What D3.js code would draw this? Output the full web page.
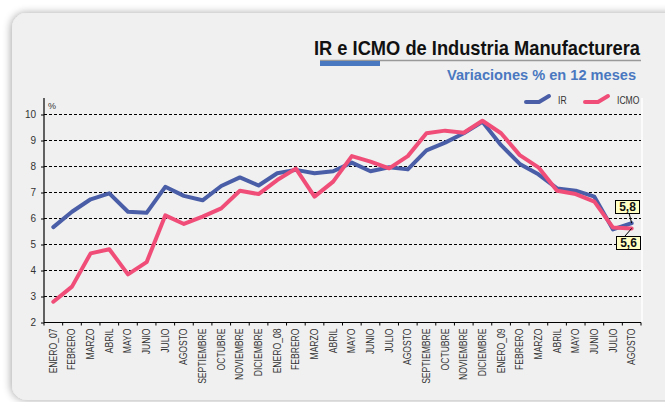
<!DOCTYPE html>
<html lang="es">
<head>
    <meta charset="utf-8">
    <title>IR e ICMO de Industria Manufacturera</title>
    <script src="https://cdnjs.cloudflare.com/ajax/libs/d3/7.8.5/d3.min.js"></script>
    <style>
        body { margin: 0; background: #ffffff; }
        svg { display: block; font-family: "Liberation Sans Narrow", "Arial Narrow", "Liberation Sans", sans-serif; }
        .grid line { stroke: #000; stroke-width: 1; stroke-dasharray: 3,2; }
        .ytick text { font-size: 10px; fill: #333; }
        .xtick text { font-size: 10px; fill: #333; }
        path.line { fill: none; stroke-width: 4; stroke-linejoin: round; stroke-linecap: round; }
    </style>
</head>
<body>
<div id="chart"></div>
<script>
    // months Jan 2007 .. Aug 2009
    var categories = ["ENERO_07","FEBRERO","MARZO","ABRIL","MAYO","JUNIO","JULIO","AGOSTO","SEPTIEMBRE","OCTUBRE","NOVIEMBRE","DICIEMBRE",
                      "ENERO_08","FEBRERO","MARZO","ABRIL","MAYO","JUNIO","JULIO","AGOSTO","SEPTIEMBRE","OCTUBRE","NOVIEMBRE","DICIEMBRE",
                      "ENERO_09","FEBRERO","MARZO","ABRIL","MAYO","JUNIO","JULIO","AGOSTO"];
    var irValues   = [5.65,6.24,6.72,6.95,6.24,6.2,7.2,6.85,6.68,7.23,7.56,7.25,
                      7.72,7.85,7.72,7.8,8.13,7.8,7.95,7.87,8.6,8.9,9.26,9.7,
                      8.8,8.08,7.68,7.14,7.05,6.82,5.56,5.8];
    var icmoValues = [2.78,3.36,4.64,4.8,3.83,4.3,6.1,5.77,6.05,6.37,7.05,6.92,
                      7.46,7.9,6.82,7.4,8.38,8.17,7.91,8.38,9.26,9.36,9.28,9.74,
                      9.26,8.42,7.95,7.05,6.92,6.63,5.63,5.6];
    var yTicks = [2,3,4,5,6,7,8,9,10];
    var seriesNames = ["IR","ICMO"];
    var seriesColors = ["#4a5ea8","#f04e78"];
    var lastLabels = ["5,8","5,6"];

    var W = 665, H = 402;
    var svg = d3.select("#chart").append("svg").attr("width", W).attr("height", H);

    // card with soft shadow
    var defs = svg.append("defs");
    var f = defs.append("filter").attr("id","shadow").attr("x","-10%").attr("y","-10%").attr("width","130%").attr("height","130%");
    f.append("feGaussianBlur").attr("in","SourceAlpha").attr("stdDeviation",4);
    f.append("feOffset").attr("dx",-1).attr("dy",0).attr("result","b");
    f.append("feComponentTransfer").append("feFuncA").attr("type","linear").attr("slope",0.35);
    var m = f.append("feMerge");
    m.append("feMergeNode");
    m.append("feMergeNode").attr("in","SourceGraphic");

    svg.append("rect").attr("x",12).attr("y",13).attr("width",700).attr("height",387)
        .attr("rx",15).attr("fill","#f0f0f0").attr("filter","url(#shadow)");

    // title
    svg.append("text").attr("x",314).attr("y",55)
        .attr("textLength",326).attr("lengthAdjust","spacingAndGlyphs")
        .style("font-size","21px").style("font-weight","bold").style("fill","#111")
        .text("IR e ICMO de Industria Manufacturera");
    svg.append("line").attr("x1",320).attr("x2",641).attr("y1",60.5).attr("y2",60.5)
        .attr("stroke","#999").attr("stroke-width",1.5);
    svg.append("rect").attr("x",320).attr("y",61).attr("width",60).attr("height",5).attr("fill","#4a78c0");
    svg.append("text").attr("x",447).attr("y",80)
        .attr("textLength",189).attr("lengthAdjust","spacingAndGlyphs")
        .style("font-size","15px").style("font-weight","bold").style("fill","#4a78c0")
        .text("Variaciones % en 12 meses");

    var plotLeft = 44, plotRight = 641, plotTop = 114, plotBottom = 322;

    var x = d3.scaleBand().domain(d3.range(categories.length)).range([plotLeft, plotRight]);
    var y = d3.scaleLinear().domain([2, 10]).range([plotBottom, plotTop]);

    // gridlines
    svg.append("g").attr("class","grid").selectAll("line")
        .data(yTicks.filter(function(d){ return d > 2; }))
        .enter().append("line")
        .attr("x1", plotLeft).attr("x2", plotRight)
        .attr("y1", function(d){ return y(d) + 0.5; }).attr("y2", function(d){ return y(d) + 0.5; });

    // white plot edge on the right
    svg.append("line").attr("x1",plotRight + 1).attr("x2",plotRight + 1).attr("y1",98).attr("y2",plotBottom)
        .attr("stroke","#ffffff").attr("stroke-width",1.5);

    // y axis
    var yAxis = svg.append("g").attr("class","ytick").attr("transform","translate(" + plotLeft + ",0.5)")
        .call(d3.axisLeft(y).tickValues(yTicks).tickSize(3).tickPadding(5));
    yAxis.select(".domain").remove();
    yAxis.selectAll(".tick line").attr("stroke","#000");
    yAxis.selectAll(".tick text").style("font-family", null);
    yAxis.attr("font-family", null);
    svg.append("line").attr("x1",plotLeft).attr("x2",plotLeft).attr("y1",98).attr("y2",plotBottom + 0.5)
        .attr("stroke","#000").attr("stroke-width",1.2);
    svg.append("text").attr("x",plotLeft + 4).attr("y",109).style("font-size","9px").style("fill","#333").text("%");

    // x axis: ticks between bands, labels rotated
    var xAxisG = svg.append("g").attr("class","xtick").attr("transform","translate(0," + (plotBottom + 0.5) + ")");
    xAxisG.append("line").attr("x1",plotLeft).attr("x2",plotRight).attr("stroke","#000").attr("stroke-width",1.2);
    xAxisG.selectAll("line.tk").data(d3.range(categories.length + 1)).enter().append("line")
        .attr("class","tk")
        .attr("x1", function(i){ return plotLeft + i * x.step(); })
        .attr("x2", function(i){ return plotLeft + i * x.step(); })
        .attr("y1", 0).attr("y2", 3).attr("stroke","#000");
    xAxisG.selectAll("text").data(categories).enter().append("text")
        .attr("transform", function(d, i){ return "translate(" + (x(i) + x.bandwidth() / 2 + 3.5) + ",6) rotate(-90) scale(0.86,1)"; })
        .attr("text-anchor","end")
        .text(function(d){ return d; });

    // lines
    var line = d3.line()
        .x(function(d, i){ return x(i) + x.bandwidth() / 2; })
        .y(function(d){ return y(d); });
    var series = [irValues, icmoValues];
    svg.selectAll("path.line").data(series).enter().append("path")
        .attr("class","line")
        .attr("d", line)
        .attr("stroke", function(d, i){ return seriesColors[i]; });

    // legend
    var legendX = [526, 585];
    seriesNames.forEach(function(name, i){
        var lx = legendX[i];
        svg.append("path")
            .attr("d", "M" + lx + ",102 L" + (lx + 13) + ",102 L" + (lx + 23) + ",96")
            .attr("fill","none").attr("stroke", seriesColors[i]).attr("stroke-width",4)
            .attr("stroke-linecap","round").attr("stroke-linejoin","round");
        svg.append("text").attr("x", lx + 32).attr("y", 104)
            .attr("transform", "translate(" + (lx + 32) + ",0) scale(0.86,1) translate(" + (-(lx + 32)) + ",0)")
            .style("font-size","10px").style("fill","#333").text(name);
    });

    // callouts for last values
    var last = categories.length - 1;
    var px = x(last) + x.bandwidth() / 2;
    var boxes = [
        { v: irValues[last], label: lastLabels[0], bx: 615, by: 200, ax: 629, ay: 213 },
        { v: icmoValues[last], label: lastLabels[1], bx: 616, by: 236, ax: 625, ay: 236 }
    ];
    boxes.forEach(function(b){
        svg.append("line").attr("x1", b.ax).attr("y1", b.ay).attr("x2", px).attr("y2", y(b.v))
            .attr("stroke","#000").attr("stroke-width",1);
        svg.append("rect").attr("x", b.bx + 0.5).attr("y", b.by + 0.5).attr("width",24).attr("height",13)
            .attr("fill","#ffffc4").attr("stroke","#000").attr("stroke-width",1);
        svg.append("text").attr("x", b.bx + 12.5).attr("y", b.by + 11).attr("text-anchor","middle")
            .style("font-size","12px").style("font-weight","bold").style("fill","#111").text(b.label);
    });
</script>
</body>
</html>
